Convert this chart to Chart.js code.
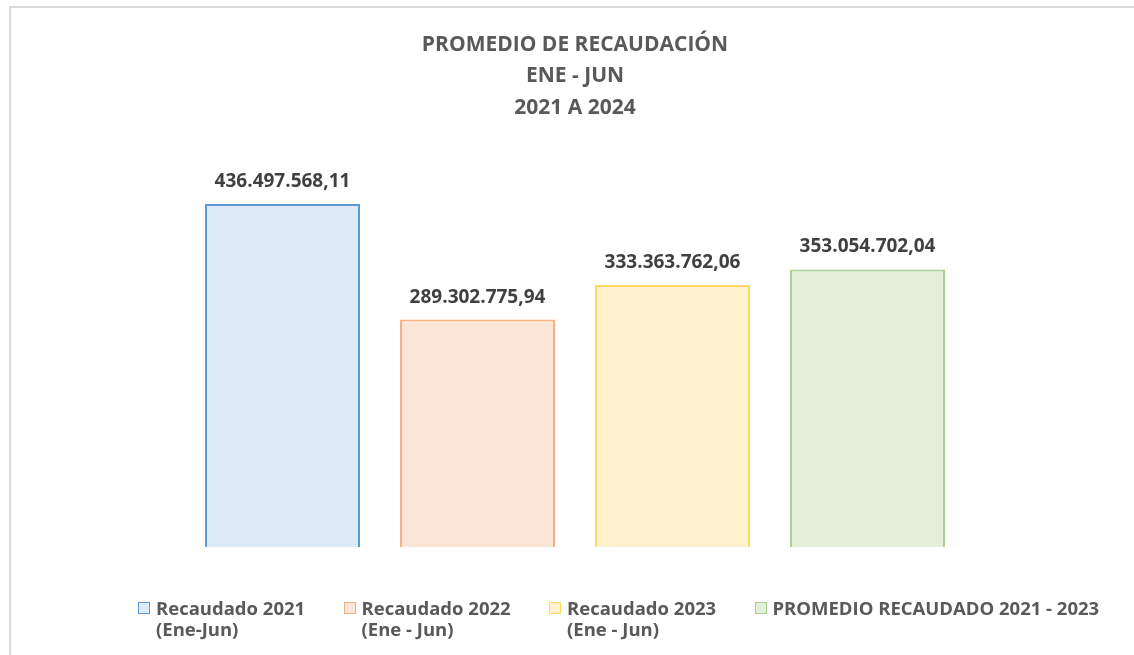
<!DOCTYPE html>
<html>
<head>
<meta charset="utf-8">
<script src="https://cdn.jsdelivr.net/npm/chart.js@4.4.1/dist/chart.umd.min.js"></script>
<style>
  html, body { margin: 0; padding: 0; background: #fff; }
  #wrap { position: relative; width: 1134px; height: 655px; overflow: hidden; }
  #frame { position: absolute; left: 9px; top: 6px; width: 1200px; height: 700px; border: 2px solid #d9d9d9; }
  #myChart { position: absolute; left: 0; top: 0; }
  #legend { position: absolute; left: 138px; top: 597px; display: flex;
            font-family: "Open Sans", sans-serif; font-weight: bold; font-size: 18.5px; color: #595959; }
  .item { display: flex; align-items: flex-start; width: 205.5px; line-height: 21px; }
  .item:last-child { width: auto; white-space: nowrap; }
  .box { width: 10px; height: 10px; border: 1.5px solid; margin: 5px 6px 0 0; flex: none; }
</style>
</head>
<body>
<div id="wrap">
  <div id="frame"></div>
  <canvas id="myChart" width="1134" height="655"></canvas>
  <div id="legend"></div>
</div>
<script>
var categories = [
  ['Recaudado 2021', '(Ene-Jun)'],
  ['Recaudado 2022', '(Ene - Jun)'],
  ['Recaudado 2023', '(Ene - Jun)'],
  ['PROMEDIO RECAUDADO 2021 - 2023']
];
var values = [436497568.11, 289302775.94, 333363762.06, 353054702.04];
var fillColors = ['#deebf7', '#fbe5d6', '#fff2cc', '#e2f0d9'];
var lineColors = ['#5b9bd5', '#f4b183', '#ffd966', '#a9d18e'];

function fmt(v) {
  var parts = v.toFixed(2).split('.');
  return parts[0].replace(/\B(?=(\d{3})+(?!\d))/g, '.') + ',' + parts[1];
}

// value labels over the bars
var valueLabels = {
  id: 'valueLabels',
  afterDatasetsDraw: function(chart) {
    var c = chart.ctx;
    var meta = chart.getDatasetMeta(0);
    c.save();
    c.font = 'bold 19px "Open Sans", sans-serif';
    c.fillStyle = '#404040';
    c.textAlign = 'center';
    c.textBaseline = 'bottom';
    meta.data.forEach(function(bar, i) {
      c.fillText(fmt(values[i]), bar.x, bar.y - 13);
    });
    c.restore();
  }
};

var ctx = document.getElementById('myChart').getContext('2d');
var myChart = new Chart(ctx, {
  type: 'bar',
  data: {
    labels: categories.map(function(c) { return c.join(' '); }),
    datasets: [{
      data: values,
      backgroundColor: fillColors,
      borderColor: lineColors,
      borderWidth: 2,
      categoryPercentage: 1,
      barPercentage: 0.795
    }]
  },
  options: {
    responsive: false,
    animation: false,
    layout: { padding: { left: 185, right: 169, top: 0, bottom: 108 } },
    plugins: {
      legend: { display: false },
      tooltip: { enabled: false },
      title: {
        display: true,
        text: ['PROMEDIO DE RECAUDACIÓN', 'ENE - JUN', '2021 A 2024'],
        color: '#595959',
        font: { family: '"Open Sans", sans-serif', size: 21, weight: 'bold', lineHeight: 1.5 },
        padding: { top: 29, bottom: 30.5 }
      }
    },
    scales: {
      x: { display: false },
      y: { display: false, beginAtZero: true, max: 500000000 }
    }
  },
  plugins: [valueLabels]
});

// html legend
var legendEl = document.getElementById('legend');
categories.forEach(function(lines, i) {
  var item = document.createElement('div');
  item.className = 'item';
  var box = document.createElement('span');
  box.className = 'box';
  box.style.background = fillColors[i];
  box.style.borderColor = lineColors[i];
  var txt = document.createElement('span');
  txt.innerHTML = lines.join('<br>');
  item.appendChild(box);
  item.appendChild(txt);
  legendEl.appendChild(item);
});
</script>
</body>
</html>
